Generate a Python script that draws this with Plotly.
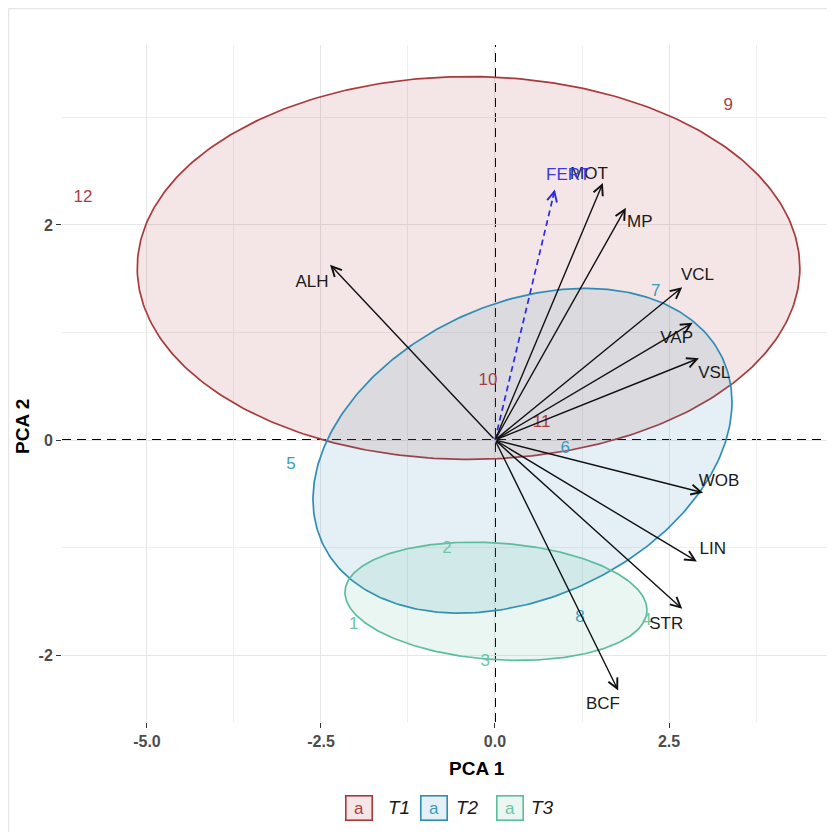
import numpy as np
import plotly.graph_objects as go

# ---------------- data ----------------
# sample scores per treatment group
t1_ids = ["9", "10", "11", "12"]
t1_x = [3.35, -0.10, 0.67, -5.92]
t1_y = [3.11, 0.55, 0.16, 2.25]

t2_ids = ["5", "6", "7", "8"]
t2_x = [-2.93, 1.01, 2.31, 1.22]
t2_y = [-0.23, -0.08, 1.38, -1.65]

t3_ids = ["1", "2", "3", "4"]
t3_x = [-2.03, -0.69, -0.14, 2.18]
t3_y = [-1.72, -1.01, -2.06, -1.68]

# confidence ellipses: centre, half-width, half-height, correlation
groups = ["T1", "T2", "T3"]
ell_cx = [-0.38, 0.395, 0.014]
ell_cy = [1.60, -0.10, -1.50]
ell_w = [4.76, 3.01, 2.17]
ell_h = [1.78, 1.51, 0.55]
ell_rho = [0.0, 0.30, -0.15]

# variable loadings (arrow tips) and their labels
var_names = ["MOT", "MP", "VCL", "VAP", "VSL", "ALH", "WOB", "LIN", "STR", "BCF"]
var_x = [1.55, 1.88, 2.69, 2.84, 2.93, -2.37, 2.99, 2.90, 2.69, 1.77]
var_y = [2.39, 2.16, 1.42, 1.09, 0.76, 1.63, -0.49, -1.13, -1.57, -2.33]
var_lab_x = [1.35, 2.08, 2.91, 2.61, 3.15, -2.63, 3.22, 3.13, 2.46, 1.55]
var_lab_y = [2.47, 2.02, 1.53, 0.94, 0.62, 1.46, -0.39, -1.02, -1.72, -2.46]

# supplementary variable
sup_names = ["FERT"]
sup_x = [0.86]
sup_y = [2.33]
sup_lab_x = [1.05]
sup_lab_y = [2.46]

origin_x, origin_y = 0.0, 0.0

# axes ticks
x_tickvals = [-5.0, -2.5, 0.0, 2.5]
x_ticktext = ["-5.0", "-2.5", "0.0", "2.5"]
y_tickvals = [-2, 0, 2]
y_ticktext = ["-2", "0", "2"]

# ---------------- styling ----------------
line_cols = ["#a83a3c", "#2f8db5", "#5bbd9b"]
fill_cols = ["rgba(168,58,60,0.13)", "rgba(47,141,181,0.13)", "rgba(91,189,155,0.13)"]
text_cols = ["#a84040", "#3a9bc2", "#6cc5a5"]
FONT = "Liberation Sans"

# layout geometry (page pixels; the page body has an 8px margin)
OFF = 8
W, H = 835 - OFF, 840 - 2 * OFF
ML, MR, MT = 62 - OFF, 0, 45 - OFF
PB = 722 - OFF          # plot bottom in figure pixels
MB = H - PB
PW, PH = W - ML - MR, H - MT - MB


def px(xp):
    return (xp - OFF - ML) / PW


def py(yp):
    return (PB - (yp - OFF)) / PH


fig = go.Figure()

# ellipses
tt = np.linspace(0, 2 * np.pi, 361)
for i, g in enumerate(groups):
    d = np.arccos(ell_rho[i])
    ex = ell_cx[i] + ell_w[i] * np.cos(tt)
    ey = ell_cy[i] + ell_h[i] * np.cos(tt - d)
    fig.add_trace(go.Scatter(
        x=ex, y=ey, mode="lines", fill="toself",
        fillcolor=fill_cols[i], line=dict(color=line_cols[i], width=1.7),
        hoverinfo="skip", showlegend=False))

# supplementary dashed vector shaft
for i, n in enumerate(sup_names):
    fig.add_trace(go.Scatter(
        x=[origin_x, sup_x[i]], y=[origin_y, sup_y[i]], mode="lines",
        line=dict(color="#2a2ae6", width=1.7, dash="6px,4px"),
        hoverinfo="skip", showlegend=False))

# sample labels
for ids, xs, ys, col in [(t1_ids, t1_x, t1_y, text_cols[0]),
                         (t2_ids, t2_x, t2_y, text_cols[1]),
                         (t3_ids, t3_x, t3_y, text_cols[2])]:
    fig.add_trace(go.Scatter(
        x=xs, y=ys, text=ids, mode="text",
        textfont=dict(family=FONT, size=17, color=col),
        hoverinfo="skip", showlegend=False))

# variable labels
fig.add_trace(go.Scatter(
    x=var_lab_x, y=var_lab_y, text=var_names, mode="text",
    textfont=dict(family=FONT, size=17, color="#1a1a1a"),
    hoverinfo="skip", showlegend=False))
fig.add_trace(go.Scatter(
    x=sup_lab_x, y=sup_lab_y, text=sup_names, mode="text",
    textfont=dict(family=FONT, size=17, color="#3a3ae0"),
    hoverinfo="skip", showlegend=False))

annotations = []
# arrows for variables
for i in range(len(var_names)):
    annotations.append(dict(
        x=var_x[i], y=var_y[i], ax=origin_x, ay=origin_y,
        xref="x", yref="y", axref="x", ayref="y",
        text="", showarrow=True, arrowhead=5, arrowsize=1.4,
        arrowwidth=1.4, arrowcolor="#111111"))
for i in range(len(sup_names)):
    annotations.append(dict(
        x=sup_x[i], y=sup_y[i], ax=sup_x[i] * 0.96, ay=sup_y[i] * 0.96,
        xref="x", yref="y", axref="x", ayref="y",
        text="", showarrow=True, arrowhead=5, arrowsize=1.4,
        arrowwidth=1.4, arrowcolor="#2a2ae6"))

# axis titles
annotations.append(dict(text="PCA 1", x=px(477), y=py(768), xref="paper", yref="paper",
                        showarrow=False, xanchor="center", yanchor="middle",
                        font=dict(family=FONT, size=19, color="#000000", weight="bold")))
annotations.append(dict(text="PCA 2", x=px(23), y=py(427), xref="paper", yref="paper",
                        showarrow=False, xanchor="center", yanchor="middle", textangle=-90,
                        font=dict(family=FONT, size=19, color="#000000", weight="bold")))

# custom legend
leg_box_x = [358.5, 434, 509.5]
leg_txt_x = [399, 467, 542]
leg_y = 807.5
for i, g in enumerate(groups):
    annotations.append(dict(
        text="a", x=px(leg_box_x[i]), y=py(leg_y), xref="paper", yref="paper",
        showarrow=False, xanchor="center", yanchor="middle", width=23, height=21,
        bgcolor=fill_cols[i], bordercolor=line_cols[i], borderwidth=1.6, borderpad=1,
        font=dict(family=FONT, size=17, color=text_cols[i])))
    annotations.append(dict(
        text="<i>" + g + "</i>", x=px(leg_txt_x[i]), y=py(leg_y), xref="paper", yref="paper",
        showarrow=False, xanchor="center", yanchor="middle",
        font=dict(family=FONT, size=19, color="#1a1a1a")))

shapes = [
    dict(type="line", xref="x", yref="paper", x0=origin_x, x1=origin_x, y0=0, y1=1,
         line=dict(color="#000000", width=2, dash="9px,6px"), layer="below"),
    dict(type="line", xref="paper", yref="y", x0=0, x1=1, y0=origin_y, y1=origin_y,
         line=dict(color="#000000", width=2, dash="9px,6px"), layer="below"),
    # faint outer frame of the image
    dict(type="line", xref="paper", yref="paper", x0=px(8.5), x1=px(835), y0=py(8.5), y1=py(8.5),
         line=dict(color="#e6e6e6", width=1.5)),
    dict(type="line", xref="paper", yref="paper", x0=px(8.5), x1=px(8.5), y0=py(8.5), y1=py(840),
         line=dict(color="#e6e6e6", width=1.5)),
]

tickfont = dict(family=FONT, size=16, color="#4d4d4d", weight="bold")
fig.update_layout(
    width=W, height=H,
    margin=dict(l=ML, r=MR, t=MT, b=MB, pad=0),
    paper_bgcolor="white", plot_bgcolor="white",
    showlegend=False,
    annotations=annotations, shapes=shapes,
    xaxis=dict(range=[-6.221, 4.885], tickvals=x_tickvals, ticktext=x_ticktext,
               showgrid=True, gridcolor="#e6e6e6", gridwidth=1, zeroline=False,
               ticks="outside", ticklen=5, tickwidth=1.3, tickcolor="#333333",
               tickfont=tickfont, showline=False,
               minor=dict(dtick=1.25, tick0=0, showgrid=True, gridcolor="#eeeeee", gridwidth=1, ticks="")),
    yaxis=dict(range=[-2.623, 3.674], tickvals=y_tickvals, ticktext=y_ticktext,
               showgrid=True, gridcolor="#e6e6e6", gridwidth=1, zeroline=False,
               ticks="outside", ticklen=5, tickwidth=1.3, tickcolor="#333333",
               tickfont=tickfont, showline=False,
               minor=dict(dtick=1, tick0=0, showgrid=True, gridcolor="#eeeeee", gridwidth=1, ticks="")),
)

fig.write_html("out.html")
